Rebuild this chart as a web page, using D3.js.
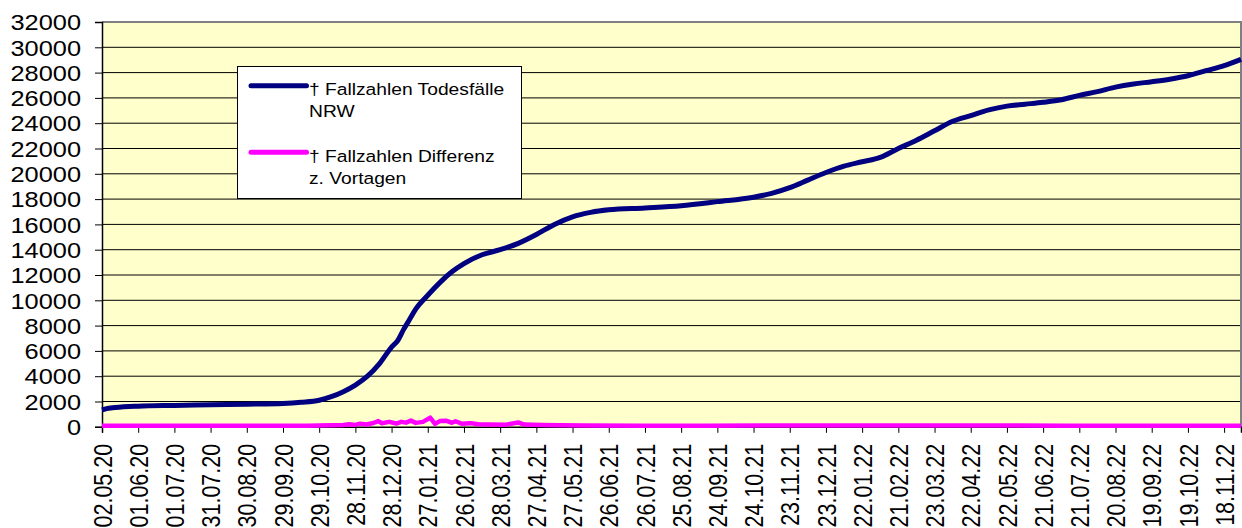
<!DOCTYPE html>
<html>
<head>
<meta charset="utf-8">
<script src="https://cdn.jsdelivr.net/npm/d3@7"></script>
<style>
  html, body { margin: 0; padding: 0; background: #ffffff; }
  svg { display: block; }
  text { font-family: Arial, "Liberation Sans", sans-serif; fill: #000; }
</style>
</head>
<body>
<svg id="chart" width="1242" height="528"></svg>
<script>
// Cumulative deaths, NRW (sampled dates)
const deathDates = [
  "02.05.20","05.05.20","13.05.20","01.06.20","01.07.20","31.07.20","30.08.20","29.09.20",
  "14.10.20","29.10.20","08.11.20","18.11.20","28.11.20","08.12.20","18.12.20","28.12.20",
  "02.01.21","07.01.21","12.01.21","17.01.21","27.01.21","06.02.21","16.02.21","26.02.21",
  "13.03.21","28.03.21","12.04.21","27.04.21","12.05.21","27.05.21","11.06.21","26.06.21",
  "26.07.21","25.08.21","24.09.21","24.10.21","08.11.21","23.11.21","08.12.21","23.12.21",
  "07.01.22","22.01.22","06.02.22","21.02.22","08.03.22","23.03.22","07.04.22","22.04.22",
  "07.05.22","22.05.22","06.06.22","21.06.22","06.07.22","21.07.22","05.08.22","20.08.22",
  "04.09.22","19.09.22","04.10.22","19.10.22","03.11.22","18.11.22","02.12.22"
];
const deathValues = [
  1330,1420,1520,1630,1690,1740,1790,1850,
  1940,2100,2380,2780,3300,4000,5000,6300,
  6800,7700,8500,9300,10400,11400,12250,12900,
  13600,14000,14500,15200,16000,16600,16950,17150,
  17300,17480,17800,18150,18450,18900,19500,20100,
  20600,20950,21300,22000,22650,23400,24150,24600,
  25050,25350,25500,25650,25850,26200,26500,26850,
  27100,27280,27480,27750,28150,28550,29050
];

// Difference to previous days
const diffDates = [
  "02.05.20","01.07.20","30.08.20","19.10.20","08.11.20","18.11.20","23.11.20","28.11.20",
  "02.12.20","07.12.20","13.12.20","17.12.20","20.12.20","26.12.20","01.01.21","05.01.21",
  "09.01.21","13.01.21","17.01.21","23.01.21","29.01.21","02.02.21","06.02.21","11.02.21",
  "16.02.21","19.02.21","24.02.21","03.03.21","10.03.21","18.03.21","02.04.21","12.04.21",
  "17.04.21","02.05.21","17.05.21","06.06.21","26.07.21","14.09.21","23.12.21","02.04.22",
  "11.07.22","19.10.22","02.12.22"
];
const diffValues = [
  80,80,80,90,130,150,200,150,
  250,180,300,450,280,390,260,390,
  330,490,310,390,720,230,450,480,
  320,440,250,290,200,190,170,340,
  180,150,130,110,90,90,100,100,
  90,90,90
];

// Axis labels
const yTicks = d3.range(0, 32001, 2000);
const xTickLabels = [
  "02.05.20","01.06.20","01.07.20","31.07.20","30.08.20","29.09.20","29.10.20","28.11.20",
  "28.12.20","27.01.21","26.02.21","28.03.21","27.04.21","27.05.21","26.06.21","26.07.21",
  "25.08.21","24.09.21","24.10.21","23.11.21","23.12.21","22.01.22","21.02.22","23.03.22",
  "22.04.22","22.05.22","21.06.22","21.07.22","20.08.22","19.09.22","19.10.22","18.11.22"
];
const seriesNames = ["† Fallzahlen Todesfälle|NRW", "† Fallzahlen Differenz|z. Vortagen"];
const seriesColors = ["#000080", "#ff00ff"];

const parse = d3.utcParse("%d.%m.%y");
const fmt = d3.utcFormat("%d.%m.%y");
const SX = 1.18; // horizontal text stretch

const plotL = 102, plotR = 1241, plotT = 22, plotB = 426.8;

const svg = d3.select("#chart");

const x = d3.scaleUtc()
  .domain([parse("02.05.20"), parse("02.12.22")])
  .range([plotL, plotR]);
const y = d3.scaleLinear().domain([0, 32000]).range([plotB, plotT]);

// plot background
svg.append("rect")
  .attr("x", plotL).attr("y", plotT)
  .attr("width", plotR - plotL).attr("height", plotB - plotT)
  .attr("fill", "#ffffcc");

// horizontal grid
svg.append("g")
  .selectAll("line")
  .data(yTicks.filter(v => v > 0 && v < 32000))
  .join("line")
  .attr("x1", plotL).attr("x2", plotR)
  .attr("y1", d => y(d)).attr("y2", d => y(d))
  .attr("stroke", "#000").attr("stroke-width", 1);

// plot frame (top / right)
svg.append("path")
  .attr("d", `M${plotL},${plotT}H${plotR}V${plotB}`)
  .attr("fill", "none").attr("stroke", "#808080").attr("stroke-width", 2);

// y axis
const yAxis = svg.append("g")
  .attr("transform", `translate(${plotL},0)`)
  .call(d3.axisLeft(y).tickValues(yTicks).tickSize(7).tickPadding(0).tickFormat(d3.format("d")));
yAxis.select(".domain").attr("stroke", "#000").attr("stroke-width", 1.5);
yAxis.selectAll(".tick line").attr("stroke", "#000");
yAxis.selectAll(".tick text").remove();
yAxis.selectAll(".tick").append("text")
  .attr("transform", `translate(-21,0) scale(${SX},1)`)
  .attr("text-anchor", "end")
  .attr("dy", "0.36em")
  .style("font-size", "21.5px")
  .text(d => d3.format("d")(d));

// x axis
const xAxis = svg.append("g")
  .attr("transform", `translate(0,${plotB})`)
  .call(d3.axisBottom(x).tickValues(xTickLabels.map(parse)).tickSize(6).tickFormat(fmt));
xAxis.select(".domain").attr("stroke", "#000").attr("stroke-width", 1.5);
xAxis.selectAll(".tick line").attr("stroke", "#000");
xAxis.selectAll(".tick text").remove();
xAxis.selectAll(".tick").append("text")
  .attr("transform", `translate(0,17) scale(${SX},1) rotate(-90)`)
  .attr("text-anchor", "end")
  .attr("dy", "0.36em")
  .style("font-size", "21.5px")
  .text(d => fmt(d));

// series lines
const deaths = deathDates.map((d, i) => [parse(d), deathValues[i]]);
const diffs = diffDates.map((d, i) => [parse(d), diffValues[i]]);

svg.append("path")
  .datum(deaths)
  .attr("d", d3.line().x(d => x(d[0])).y(d => y(d[1])).curve(d3.curveMonotoneX))
  .attr("fill", "none")
  .attr("stroke", seriesColors[0])
  .attr("stroke-width", 5)
  .attr("stroke-linejoin", "round");

svg.append("path")
  .datum(diffs)
  .attr("d", d3.line().x(d => x(d[0])).y(d => y(d[1])))
  .attr("fill", "none")
  .attr("stroke", seriesColors[1])
  .attr("stroke-width", 4.5)
  .attr("stroke-linejoin", "round");

// legend
const lg = svg.append("g");
lg.append("rect")
  .attr("x", 237.5).attr("y", 66.5)
  .attr("width", 284).attr("height", 132)
  .attr("fill", "#fff").attr("stroke", "#000").attr("stroke-width", 1);

seriesNames.forEach((name, i) => {
  const yy = 85.7 + i * 66.6;
  lg.append("line")
    .attr("x1", 251).attr("x2", 306.5)
    .attr("y1", yy).attr("y2", yy)
    .attr("stroke", seriesColors[i]).attr("stroke-width", 5)
    .attr("stroke-linecap", "round");
  const parts = name.split("|");
  parts.forEach((p, k) => {
    lg.append("text")
      .attr("transform", `translate(309,${yy + 9.5 + k * 22}) scale(${SX},1)`)
      .style("font-size", "16.3px")
      .text(p);
  });
});
</script>
</body>
</html>
